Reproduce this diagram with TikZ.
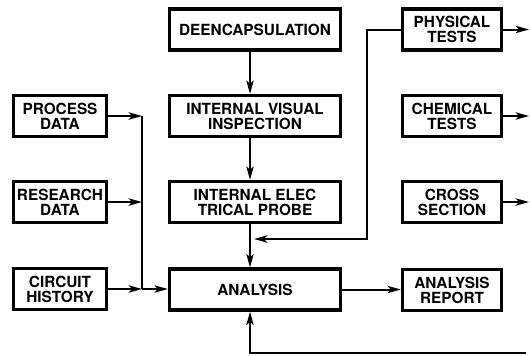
\documentclass[tikz,border=0pt]{standalone}
\usepackage{fontspec}
\setmainfont{TeX Gyre Heros}
\usetikzlibrary{arrows.meta,calc}
\newdimen\pxu \pxu=0.75pt
\begin{document}
\begin{tikzpicture}[x=0.75pt,y=-0.75pt,
  box/.style={draw,line width=2.5pt,align=center,inner sep=0pt,
    font=\bfseries\fontsize{11.5}{11.3}\selectfont,minimum height=41\pxu},
  cbox/.style={box,minimum width=171\pxu},
  lbox/.style={box,minimum width=93\pxu},
  rbox/.style={box,minimum width=99\pxu},
  conn/.style={line width=1.5pt},
  arr/.style={conn,-{Stealth[length=10pt,width=5.5pt,inset=2.5pt]}}]
\useasboundingbox (0,0) rectangle (530,355);
% centre column
\node[cbox] (deen) at (255,29.5) {DEENCAPSULATION};
\node[cbox] (ivi)  at (255,116) {INTERNAL VISUAL\\INSPECTION};
\node[cbox] (iep)  at (255,202) {INTERNAL ELEC\\TRICAL PROBE};
\node[cbox] (ana)  at (255,289.5) {ANALYSIS};
% left column
\node[lbox] (proc) at (60,116) {PROCESS\\DATA};
\node[lbox] (res)  at (60,202) {RESEARCH\\DATA};
\node[lbox] (circ) at (60,289) {CIRCUIT\\HISTORY};
% right column
\node[rbox] (phys) at (452,29.5) {PHYSICAL\\TESTS};
\node[rbox] (chem) at (452,116) {CHEMICAL\\TESTS};
\node[rbox] (cross) at (452,202) {CROSS\\SECTION};
\node[rbox] (rep)  at (452,290) {ANALYSIS\\REPORT};
% coordinates
\coordinate (bus) at (142,0);
\coordinate (rx) at (529,0);
\coordinate (fbc) at (367,239);
\coordinate (fbt) at (254,239);
\coordinate (br) at (526,353);
% centre flow
\draw[arr] ([xshift=-5\pxu]deen.south) -- ([xshift=-5\pxu]ivi.north);
\draw[arr] ([xshift=-5\pxu]ivi.south) -- ([xshift=-5\pxu]iep.north);
\draw[arr] ([xshift=-5\pxu]iep.south) -- ([xshift=-5\pxu]ana.north);
% left inputs
\draw[arr] (proc.east) -- (proc.east -| bus);
\draw[arr] (res.east) -- (res.east -| bus);
\draw[arr] (circ.east) -- (circ.east -| bus);
\draw[conn] (proc.east -| bus) -- (circ.east -| bus);
\draw[arr] (circ.east -| bus) -- (circ.east -| ana.west);
% right outputs
\draw[arr] (phys.east) -- (phys.east -| rx);
\draw[arr] (chem.east) -- (chem.east -| rx);
\draw[arr] (cross.east) -- (cross.east -| rx);
\draw[arr] (ana.east) -- (ana.east -| rep.west);
% feedback from physical tests
\draw[arr] (phys.west) -| (fbc) -- (fbt);
% bottom feedback
\draw[arr] (br) -| ([xshift=-5\pxu]ana.south);
\end{tikzpicture}
\end{document}
